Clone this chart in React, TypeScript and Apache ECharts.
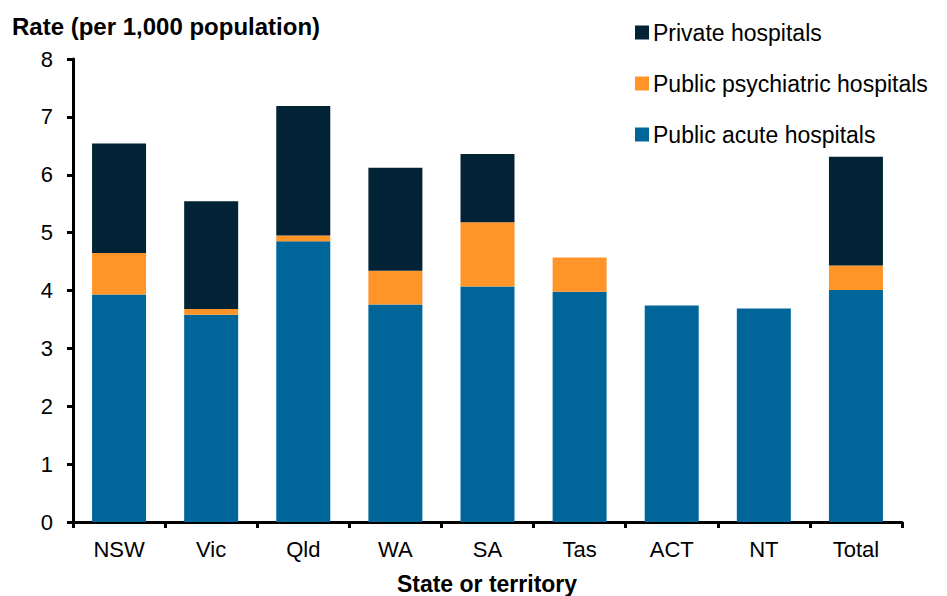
import React, { useEffect, useRef } from "react";
import * as echarts from "echarts";

const categories = ["NSW", "Vic", "Qld", "WA", "SA", "Tas", "ACT", "NT", "Total"];
const publicAcute = [3.93, 3.58, 4.85, 3.76, 4.07, 3.98, 3.74, 3.69, 4.01];
const publicPsychiatric = [0.72, 0.1, 0.1, 0.58, 1.11, 0.59, 0, 0, 0.42];
const privateHospitals = [1.89, 1.86, 2.24, 1.78, 1.18, 0, 0, 0, 1.88];
const yTicks = [0, 1, 2, 3, 4, 5, 6, 7, 8];

const FONT = "'Liberation Sans', Arial, sans-serif";

export default function App() {
  const ref = useRef<HTMLDivElement>(null);
  useEffect(() => {
    document.body.style.margin = "0";
    if (!ref.current) return;
    const chart = echarts.init(ref.current, undefined, { renderer: "svg" });
    chart.setOption({
      animation: false,
      textStyle: { fontFamily: FONT },
      grid: { left: 73, right: 45, top: 59, bottom: 74, containLabel: false },
      legend: {
        orient: "vertical",
        left: 630,
        top: 16,
        itemWidth: 14,
        itemHeight: 14,
        itemGap: 28,
        icon: "rect",
        textStyle: { fontSize: 23, color: "#000", fontFamily: FONT, padding: [0, 0, 0, -1] },
        data: ["Private hospitals", "Public psychiatric hospitals", "Public acute hospitals"],
      },
      graphic: [
        {
          type: "text",
          left: 12,
          top: 14,
          style: { text: "Rate (per 1,000 population)", font: `bold 24px ${FONT}`, fill: "#000" },
        },
        {
          type: "text",
          x: 487,
          y: 584,
          style: {
            text: "State or territory",
            font: `bold 23px ${FONT}`,
            fill: "#000",
            align: "center",
            verticalAlign: "middle",
          },
        },
      ],
      xAxis: {
        type: "category",
        data: categories,
        axisLine: { lineStyle: { color: "#000", width: 3 } },
        axisTick: { show: true, length: 6, lineStyle: { color: "#000", width: 3 } },
        axisLabel: { fontSize: 22, color: "#000", margin: 16, fontFamily: FONT },
      },
      yAxis: {
        type: "value",
        min: yTicks[0],
        max: yTicks[yTicks.length - 1],
        interval: 1,
        splitLine: { show: false },
        axisLine: { show: true, lineStyle: { color: "#000", width: 3 } },
        axisTick: { show: true, length: 6, lineStyle: { color: "#000", width: 3 } },
        axisLabel: { fontSize: 22, color: "#000", margin: 20, fontFamily: FONT },
      },
      series: [
        {
          name: "Public acute hospitals",
          type: "bar",
          stack: "total",
          data: publicAcute,
          barWidth: 54,
          itemStyle: { color: "#006699" },
        },
        {
          name: "Public psychiatric hospitals",
          type: "bar",
          stack: "total",
          data: publicPsychiatric,
          barWidth: 54,
          itemStyle: { color: "#FF9428" },
        },
        {
          name: "Private hospitals",
          type: "bar",
          stack: "total",
          data: privateHospitals,
          barWidth: 54,
          itemStyle: { color: "#022235" },
        },
      ],
    });
    return () => chart.dispose();
  }, []);
  return <div ref={ref} style={{ width: 947, height: 596 }} />;
}
